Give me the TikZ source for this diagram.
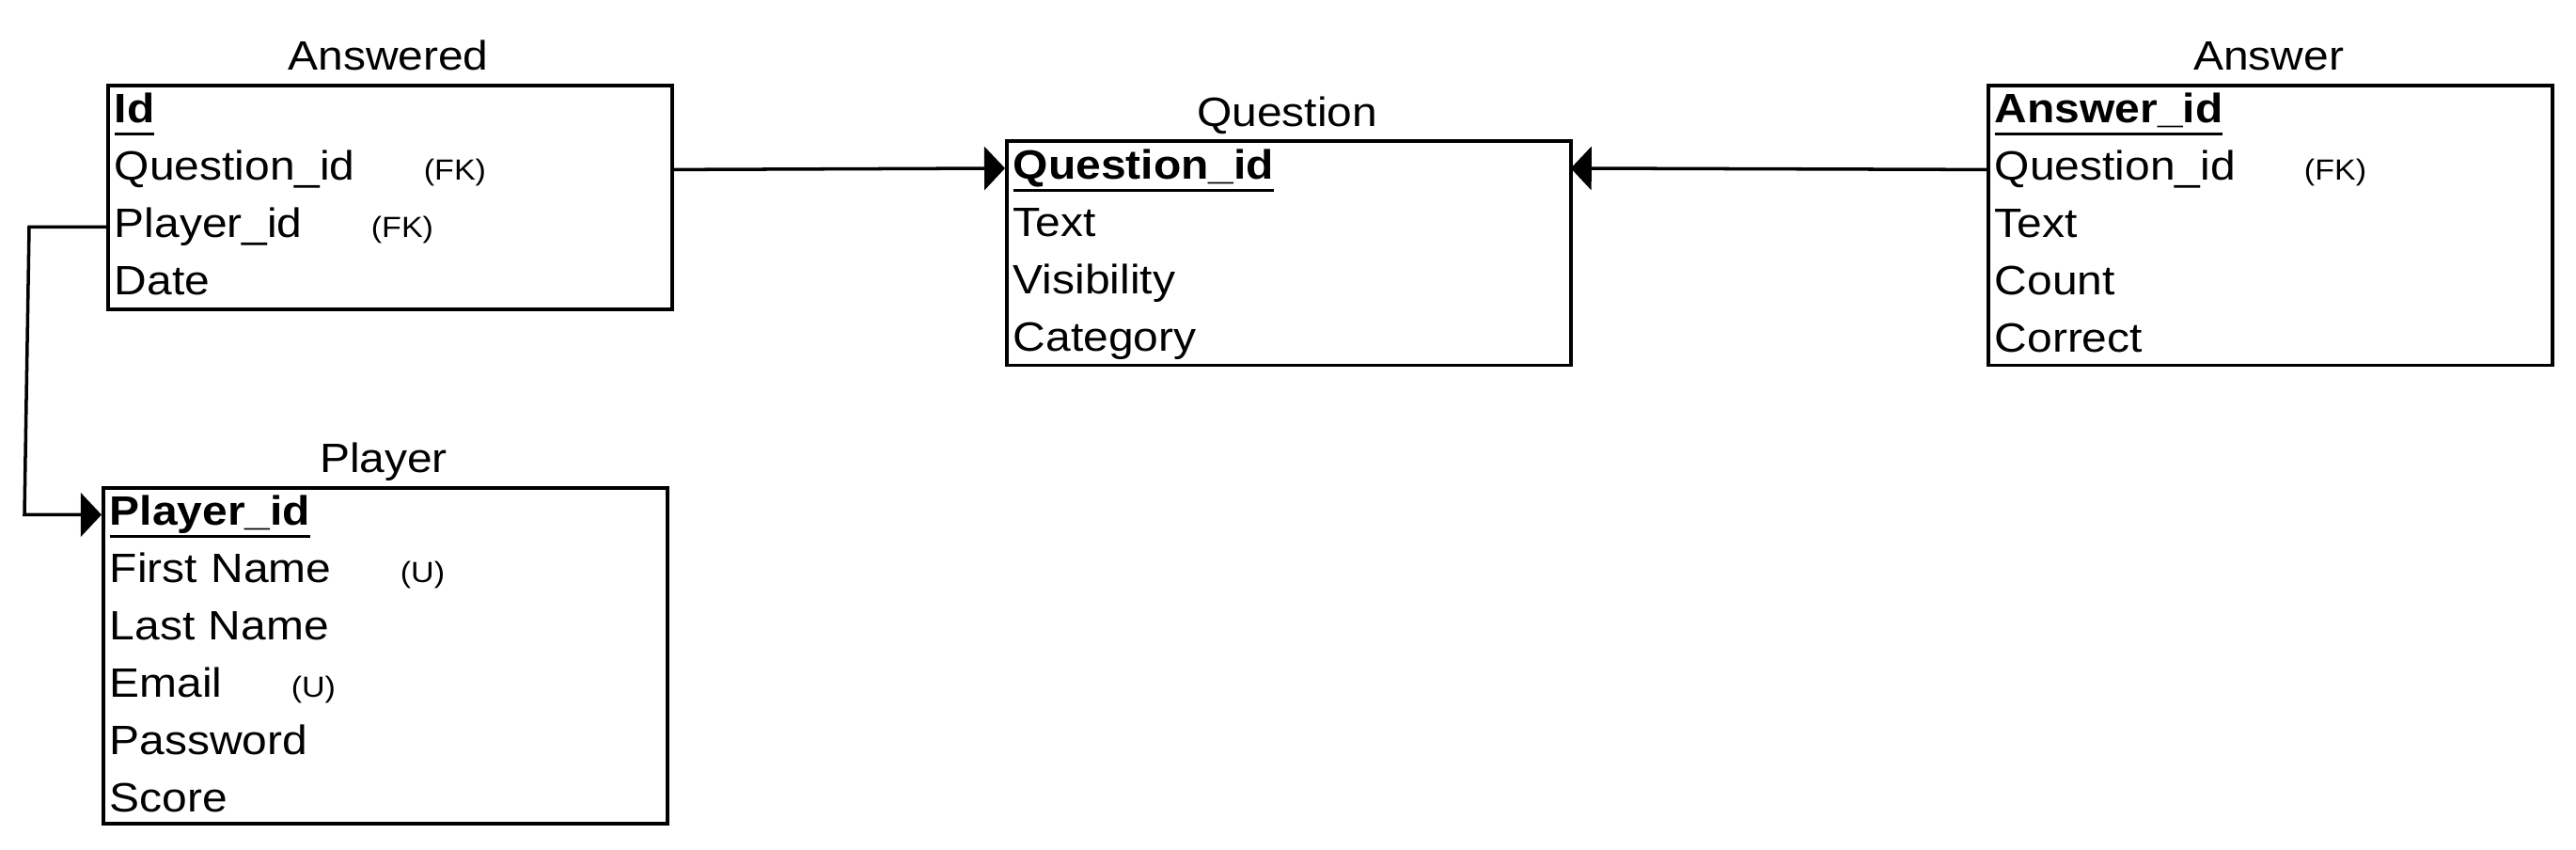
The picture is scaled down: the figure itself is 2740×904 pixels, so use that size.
\documentclass[tikz,border=0pt]{standalone}
\usepackage{fontspec}
\setmainfont{Liberation Sans}[FakeStretch=1.1]
\usepackage{tikz}
\usetikzlibrary{positioning,arrows.meta}

\newcommand{\keyattr}[1]{\setbox0\hbox{\bfseries #1}\rlap{\rule[-0.137cm]{\wd0}{0.03cm}}\box0}
\newcommand{\withnote}[3]{\makebox[#1][l]{#2}{\fontsize{8.8pt}{10pt}\selectfont #3}}

\begin{document}
\begin{tikzpicture}[x=0.01cm, y=-0.01cm,
    every node/.style={font=\fontsize{12.4pt}{14pt}\selectfont},
    row/.style={text width=5.84cm, align=left, inner xsep=0.08cm, inner ysep=0,
        text height=0.41cm, text depth=0.185cm, anchor=north west},
    tbl/.style={draw, line width=1pt, inner sep=0, minimum width=6cm, anchor=north west},
    ttl/.style={anchor=base},
    fk/.style={line width=1pt, -{Triangle[length=0.22cm, width=0.46cm]}}]

        \useasboundingbox (0,0) rectangle (2740,904);

        % Answered
        \node [ttl] (answeredT) at (413,75) {Answered};
        \node [row] (a1) at (113,89) {\keyattr{Id}};
        \node [row, below=0pt of a1] (a2) {\withnote{3.29cm}{Question\_id}{(FK)}};
        \node [row, below=0pt of a2] (a3) {\withnote{2.73cm}{Player\_id}{(FK)}};
        \node [row, below=0pt of a3] (a4) {Date};
        \node [tbl, minimum height=2.38cm] (answered) at (113,89) {};

        % Question
        \node [ttl] (questionT) at (1369,134.5) {Question};
        \node [row] (q1) at (1069,148.5) {\keyattr{Question\_id}};
        \node [row, below=0pt of q1] (q2) {Text};
        \node [row, below=0pt of q2] (q3) {Visibility};
        \node [row, below=0pt of q3] (q4) {Category};
        \node [tbl, minimum height=2.38cm] (question) at (1069,148.5) {};

        % Answer
        \node [ttl] (answerT) at (2413,75) {Answer};
        \node [row] (r1) at (2113,89) {\keyattr{Answer\_id}};
        \node [row, below=0pt of r1] (r2) {\withnote{3.29cm}{Question\_id}{(FK)}};
        \node [row, below=0pt of r2] (r3) {Text};
        \node [row, below=0pt of r3] (r4) {Count};
        \node [row, below=0pt of r4] (r5) {Correct};
        \node [tbl, minimum height=2.975cm] (answer) at (2113,89) {};

        % Player
        \node [ttl] (playerT) at (408,503) {Player};
        \node [row] (p1) at (108,517) {\keyattr{Player\_id}};
        \node [row, below=0pt of p1] (p2) {\withnote{3.09cm}{First Name}{(U)}};
        \node [row, below=0pt of p2] (p3) {Last Name};
        \node [row, below=0pt of p3] (p4) {\withnote{1.93cm}{Email}{(U)}};
        \node [row, below=0pt of p4] (p5) {Password};
        \node [row, below=0pt of p5] (p6) {Score};
        \node [tbl, minimum height=3.57cm] (player) at (108,517) {};

        % keys
        \draw [fk] (a2.east) -- (q1.west);
        \draw [fk] (r2.west) -- (q1.east);
        \coordinate (bendA) at (31,0);
        \coordinate (bendB) at (26,0);
        \draw [fk] (a3.west) -- (a3.west -| bendA) -- (p1.west -| bendB) -- (p1.west);

\end{tikzpicture}
\end{document}
